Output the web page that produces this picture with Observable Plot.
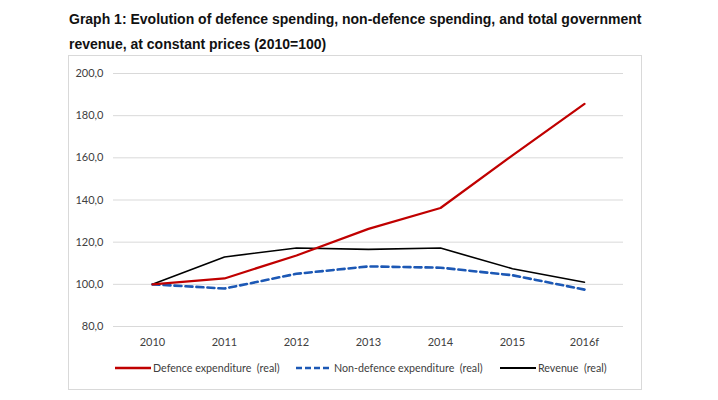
<!DOCTYPE html>
<html>
<head>
<meta charset="utf-8">
<script src="https://cdn.jsdelivr.net/npm/d3@7"></script>
<script src="https://cdn.jsdelivr.net/npm/@observablehq/plot@0.6"></script>
<style>
  html, body { margin: 0; padding: 0; background: #fff; }
  #wrap { position: relative; width: 718px; height: 400px; overflow: hidden; }
  #title { position: absolute; left: 69px; top: 7px; font-family: "Liberation Sans", Arial, sans-serif; font-weight: bold; font-size: 14px; line-height: 24.5px; color: #111; white-space: nowrap; }
  #frame { position: absolute; left: 68px; top: 55px; width: 572px; height: 333px; border: 1px solid #d9d9d9; }
  #chart { position: absolute; left: 0; top: 55px; }
  #legend { position: absolute; top: 361px; left: 0; width: 718px; height: 16px; font-family: Lato, "Open Sans", sans-serif; font-size: 10.7px; color: #404040; }
  .li { position: absolute; display: flex; align-items: center; white-space: nowrap; }
  .li svg { margin-right: 2px; }
</style>
</head>
<body>
<div id="wrap">
  <div id="title">Graph 1: Evolution of defence spending, non-defence spending, and total government<br>revenue, at constant prices (2010=100)</div>
  <div id="frame"></div>
  <div id="chart"></div>
  <div id="legend"></div>
</div>
<script>
const years = ["2010", "2011", "2012", "2013", "2014", "2015", "2016f"];
const defence = [100, 102.8, 113.7, 126.3, 136.2, 161.2, 185.6];
const nonDefence = [100, 98.0, 105.0, 108.5, 107.9, 104.3, 97.5];
const revenue = [100, 113.0, 117.2, 116.6, 117.2, 107.4, 101.0];
const yTicks = [80, 100, 120, 140, 160, 180, 200];
const seriesNames = ["Defence expenditure (real)", "Non-defence expenditure (real)", "Revenue (real)"];

const colors = ["#c00000", "#1c58b5", "#000000"];
const rows = [];
[defence, nonDefence, revenue].forEach((vals, s) => {
  vals.forEach((v, i) => rows.push({series: seriesNames[s], year: years[i], value: v}));
});

const fmt = d => d.toFixed(1).replace(".", ",");

const plot = Plot.plot({
  width: 718,
  height: 345,
  marginLeft: 113,
  marginRight: 95,
  marginTop: 18,
  marginBottom: 74,
  style: {fontFamily: "Lato, 'Open Sans', sans-serif", fontSize: "11px", color: "#595959", background: "transparent"},
  x: {type: "point", domain: years, padding: 0.5, label: null, tickSize: 0, tickPadding: 12},
  y: {domain: [80, 200], ticks: yTicks, tickFormat: fmt, label: null, tickSize: 0, tickPadding: 10},
  marks: [
    Plot.ruleY(yTicks, {stroke: "#d9d9d9", strokeWidth: 1}),
    Plot.axisX({tickSize: 0, tickPadding: 12, fill: "#404040"}),
    Plot.axisY({ticks: yTicks, tickFormat: fmt, tickSize: 0, tickPadding: 10, fill: "#404040"}),
    Plot.line(rows.filter(d => d.series === seriesNames[2]), {x: "year", y: "value", stroke: colors[2], strokeWidth: 1.6}),
    Plot.line(rows.filter(d => d.series === seriesNames[1]), {x: "year", y: "value", stroke: colors[1], strokeWidth: 2.6, strokeDasharray: "7,4"}),
    Plot.line(rows.filter(d => d.series === seriesNames[0]), {x: "year", y: "value", stroke: colors[0], strokeWidth: 2.2})
  ]
});
document.getElementById("chart").appendChild(plot);

const legend = document.getElementById("legend");
const lx = [115, 296, 500];
const dashes = [null, "6,3", null];
const widths = [2.4, 2.6, 1.8];
seriesNames.forEach((n, i) => {
  const el = document.createElement("div");
  el.className = "li";
  el.style.left = lx[i] + "px";
  el.innerHTML = `<svg width="36" height="10"><line x1="0" x2="36" y1="5" y2="5" stroke="${colors[i]}" stroke-width="${widths[i]}" ${dashes[i] ? `stroke-dasharray="${dashes[i]}"` : ""}/></svg><span>${n.replace("(", "&nbsp;(")}</span>`;
  legend.appendChild(el);
});
</script>
</body>
</html>
